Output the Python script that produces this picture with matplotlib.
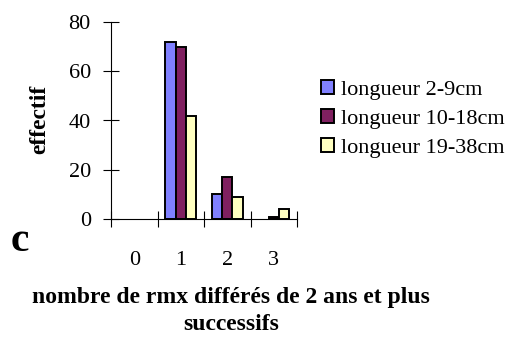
import numpy as np
import matplotlib.pyplot as plt
from matplotlib.ticker import FixedLocator

plt.rcParams['font.family'] = ['Liberation Serif', 'DejaVu Serif']

categories = ['0', '1', '2', '3']
series_labels = ['longueur 2-9cm', 'longueur 10-18cm', 'longueur 19-38cm']
small = [0, 72, 10, 0]
medium = [0, 70, 17, 1]
large = [0, 42, 9, 4]
colors = ['#8080FF', '#802060', '#FFFFC0']

fig = plt.figure(figsize=(5.26, 3.37), dpi=100)
ax = fig.add_axes([111 / 526, 1 - 219 / 337, 186 / 526, 197 / 337])

x = np.arange(len(categories))
w = 0.225
for i, (vals, lab, col) in enumerate(zip([small, medium, large], series_labels, colors)):
    # empty cells are not drawn at all in the original
    heights = np.where(np.array(vals) > 0, vals, np.nan)
    ax.bar(x + (i - 1) * w, heights, width=w, color=col, edgecolor='black',
           linewidth=1.4, label=lab)

ax.set_xlim(-0.5, 3.5)
ax.set_ylim(0, 80)
ax.set_yticks([0, 20, 40, 60, 80])
ax.set_xticks(x)
ax.set_xticklabels(categories)
ax.xaxis.set_minor_locator(FixedLocator(np.arange(-0.5, 4, 1)))
ax.tick_params(axis='x', which='major', length=0, pad=23, labelsize=16)
ax.tick_params(axis='x', which='minor', direction='inout', length=11, width=0.8)
ax.tick_params(axis='y', direction='inout', length=11, width=0.8, pad=9, labelsize=16)
for s in ['top', 'right']:
    ax.spines[s].set_visible(False)
for s in ['left', 'bottom']:
    ax.spines[s].set_linewidth(0.8)

fig.text(40 / 526, 1 - 119 / 337, 'effectif', rotation=90, ha='center', va='center',
         fontsize=17, fontweight='bold')
fig.text(11 / 526, 1 - 241 / 337, 'c', ha='left', va='center', fontsize=30,
         fontweight='bold')
fig.text(231 / 526, 1 - 298 / 337, 'nombre de rmx différés de 2 ans et plus',
         ha='center', va='center', fontsize=17, fontweight='bold')
fig.text(231 / 526, 1 - 325 / 337, 'successifs',
         ha='center', va='center', fontsize=17, fontweight='bold')

ax.legend(loc='center left', bbox_to_anchor=(312 / 526, 1 - 119 / 337),
          bbox_transform=fig.transFigure, frameon=False, fontsize=16,
          handlelength=0.6, handleheight=0.6, handletextpad=0.3, labelspacing=0.4,
          borderaxespad=0)

fig.savefig('out.png', dpi=100)
